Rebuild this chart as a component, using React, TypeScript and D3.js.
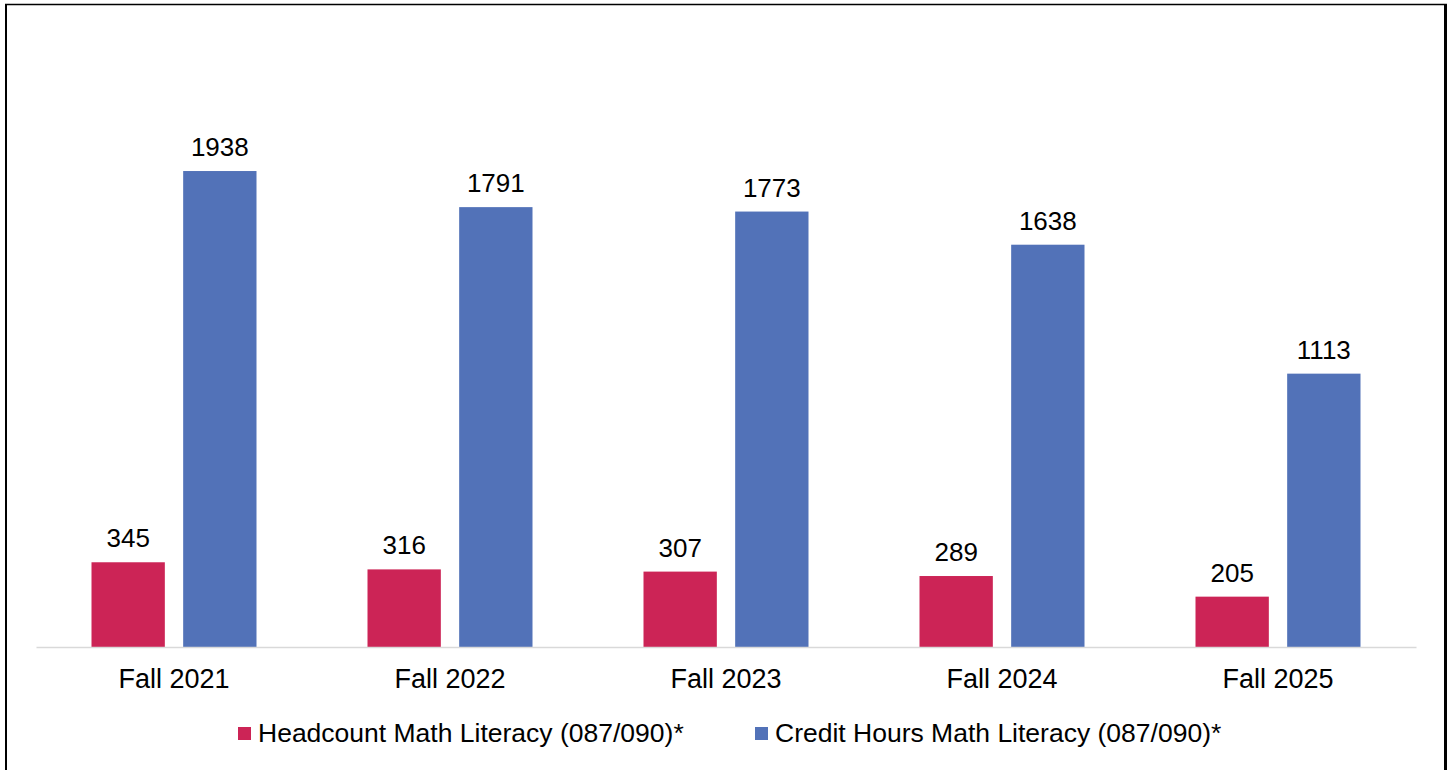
import React, { useRef, useEffect } from 'react';
import * as d3 from 'd3';

const categories = ['Fall 2021', 'Fall 2022', 'Fall 2023', 'Fall 2024', 'Fall 2025'];
const headcount = [345, 316, 307, 289, 205];
const creditHours = [1938, 1791, 1773, 1638, 1113];
const seriesNames = ['Headcount Math Literacy (087/090)*', 'Credit Hours Math Literacy (087/090)*'];
const colors = ['#cc2456', '#5272b8'];

const App: React.FC = () => {
  const svgRef = useRef<SVGSVGElement>(null);

  useEffect(() => {
    if (!svgRef.current) return;
    const svg = d3.select(svgRef.current);
    svg.selectAll('*').remove();

    const font = 'Liberation Sans, Arial, sans-serif';
    const left = 36, right = 1416, baseline = 647;

    // frame
    svg.append('rect').attr('width', 1452).attr('height', 770).attr('fill', '#fff');
    svg.append('line').attr('x1', 5).attr('x2', 1447).attr('y1', 4.5).attr('y2', 4.5)
      .attr('stroke', '#000').attr('stroke-width', 1.5);
    svg.append('line').attr('x1', 6).attr('x2', 6).attr('y1', 4).attr('y2', 770)
      .attr('stroke', '#000').attr('stroke-width', 2);
    svg.append('line').attr('x1', 1445.5).attr('x2', 1445.5).attr('y1', 4).attr('y2', 770)
      .attr('stroke', '#000').attr('stroke-width', 3);

    const x0 = d3.scaleBand().domain(categories).range([left, right]).padding(0);
    const x1 = d3.scaleBand().domain(['0', '1'])
      .range([55.5, x0.bandwidth() - 55.5]).paddingInner(0.2);
    const y = d3.scaleLinear().domain([0, 2500]).range([baseline, 33]);

    const series = [headcount, creditHours];
    series.forEach((vals, si) => {
      const g = svg.append('g');
      g.selectAll('rect').data(vals).enter().append('rect')
        .attr('x', (_, i) => x0(categories[i])! + x1(String(si))!)
        .attr('y', d => y(d))
        .attr('width', x1.bandwidth())
        .attr('height', d => baseline - y(d))
        .attr('fill', colors[si]);
      g.selectAll('text').data(vals).enter().append('text')
        .attr('x', (_, i) => x0(categories[i])! + x1(String(si))! + x1.bandwidth() / 2)
        .attr('y', d => y(d) - 15)
        .attr('text-anchor', 'middle')
        .attr('font-family', font).attr('font-size', 26).attr('fill', '#000')
        .text(d => String(d));
    });

    // axis
    const axis = svg.append('g').attr('transform', `translate(0,${baseline})`)
      .call(d3.axisBottom(x0).tickSize(0).tickPadding(0));
    axis.select('.domain').attr('stroke', '#d9d9d9').attr('stroke-width', 1.5);
    axis.selectAll('text')
      .attr('font-family', font).attr('font-size', 27).attr('fill', '#000')
      .attr('dy', 0).attr('y', 41);

    // legend
    const legendX = [238, 755];
    seriesNames.forEach((name, i) => {
      svg.append('rect').attr('x', legendX[i]).attr('y', 727).attr('width', 13).attr('height', 13)
        .attr('fill', colors[i]);
      svg.append('text').attr('x', legendX[i] + 20).attr('y', 742)
        .attr('font-family', font).attr('font-size', 26.5).attr('fill', '#000')
        .text(name);
    });
  }, []);

  return (
    <svg ref={svgRef} width={1452} height={770}
      style={{ position: 'absolute', left: 0, top: 0, display: 'block' }} />
  );
};

export default App;
